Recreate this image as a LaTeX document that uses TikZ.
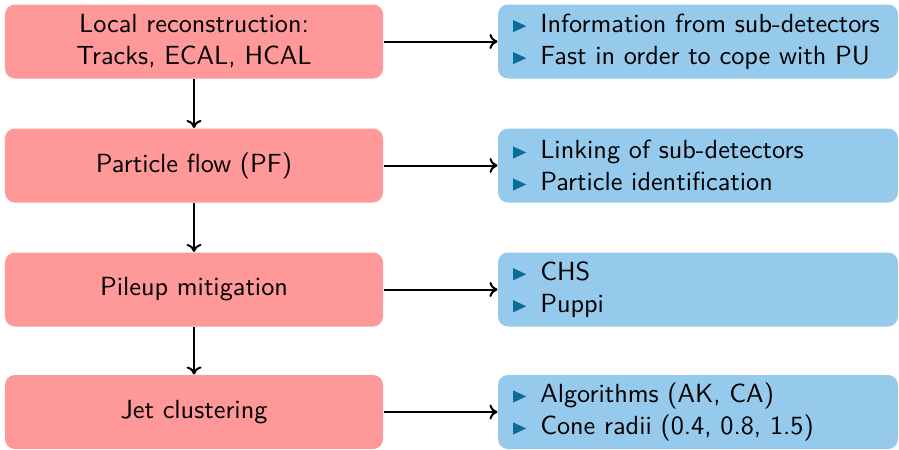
\documentclass[tikz,border=0pt]{standalone}
\usepackage{tikz}
\usetikzlibrary{arrows.meta}

\definecolor{stagefill}{RGB}{255,152,152}
\definecolor{notefill}{RGB}{149,202,237}
\definecolor{bulletcol}{RGB}{12,110,152}

% beamer-like triangular item marker
\newcommand\itemtri{\tikz[baseline=0pt,x=1pt,y=1pt]\fill[bulletcol,sharp corners] (0,0) -- (5.3,2.45) -- (0,4.9) -- cycle;\hspace{5.6pt}}

\begin{document}
\begin{tikzpicture}[x=0.4pt,y=-0.4pt,
  font=\fontsize{10.5}{12.8}\selectfont\sffamily,
  stage/.style={fill=stagefill, rounded corners=4pt, minimum width=151.2pt,
    minimum height=29.6pt, inner sep=0pt, align=center},
  note/.style={fill=notefill, rounded corners=4pt, minimum width=160pt,
    minimum height=29.6pt, inner xsep=6pt, inner ysep=0pt,
    text width=148pt, align=left},
  flow/.style={-{To[length=3.2pt,width=6pt]}, line width=0.8pt}]
\useasboundingbox (0,0) rectangle (899,449);

% processing stages
\node[stage] (l1) at (194,41.5) {Local reconstruction:\\Tracks, ECAL, HCAL};
\node[stage] (l2) at (194,165.5) {Particle flow (PF)};
\node[stage] (l3) at (194,289.5) {Pileup mitigation};
\node[stage] (l4) at (194,412) {Jet clustering};

% notes for each stage
\node[note] (r1) at (698,41.5) {\itemtri Information from sub-detectors\\\itemtri Fast in order to cope with PU};
\node[note] (r2) at (698,165.5) {\itemtri Linking of sub-detectors\\\itemtri Particle identification};
\node[note] (r3) at (698,289.5) {\itemtri CHS\\\itemtri Puppi};
\node[note] (r4) at (698,412) {\itemtri Algorithms (AK, CA)\\\itemtri Cone radii (0.4, 0.8, 1.5)};

% chain of stages
\draw[flow] (l1) -- (l2);
\draw[flow] (l2) -- (l3);
\draw[flow] (l3) -- (l4);

% stage to note
\draw[flow] (l1) -- (r1);
\draw[flow] (l2) -- (r2);
\draw[flow] (l3) -- (r3);
\draw[flow] (l4) -- (r4);
\end{tikzpicture}
\end{document}
